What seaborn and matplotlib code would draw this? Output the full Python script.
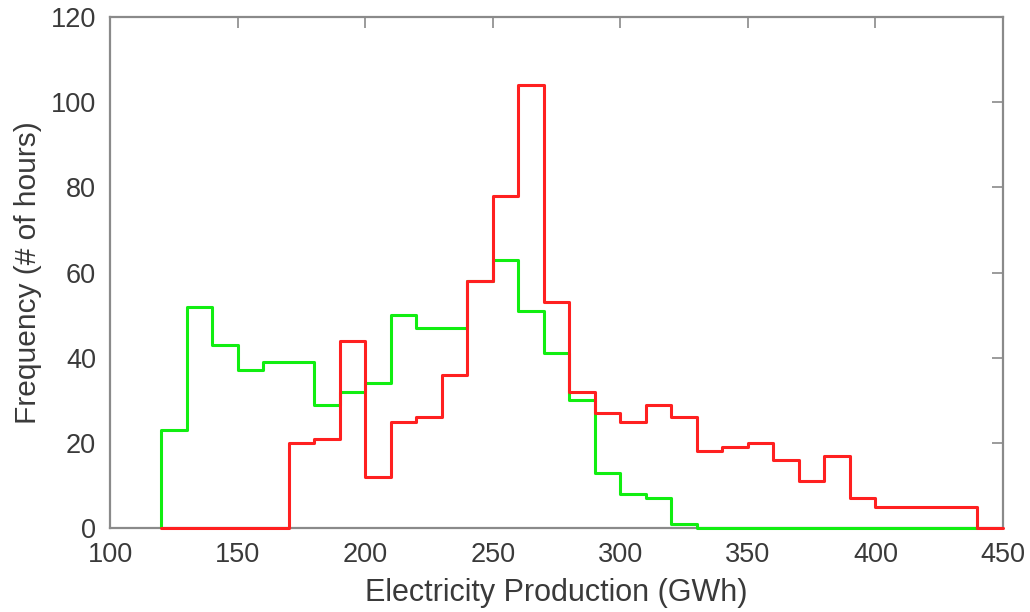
import numpy as np
import pandas as pd
import matplotlib
matplotlib.use("Agg")
import matplotlib.pyplot as plt
import seaborn as sns

# Bin edges (GWh) and counts
green_edges_start = 120
green_counts = [23, 52, 43, 37, 39, 39, 29, 32, 34, 50, 47, 47, 58, 63, 51, 41, 30,
                13, 8, 7, 1, 0, 0, 0, 0, 0, 0, 0, 0, 0, 0, 0]
red_edges_start = 120
red_counts = [0, 0, 0, 0, 0, 20, 21, 44, 12, 25, 26, 36, 58, 78, 104, 53, 32,
              27, 25, 29, 26, 18, 19, 20, 16, 11, 17, 7, 5, 5, 5, 5, 0]
bin_width = 10
x_ticks = [100, 150, 200, 250, 300, 350, 400, 450]
y_ticks = [0, 20, 40, 60, 80, 100, 120]
x_label = "Electricity Production (GWh)"
y_label = "Frequency (# of hours)"

GREEN = "#11ee11"
RED = "#ff2020"
AX_COL = "#8a8a8a"
TXT_COL = "#3a3a3a"

sns.set_theme(style="white")
plt.rcParams["font.family"] = ["Liberation Sans", "DejaVu Sans"]

fig = plt.figure(figsize=(10.30, 6.12), dpi=100)
ax = fig.add_axes([110 / 1030, 1 - 528 / 612, (1003 - 110) / 1030, (528 - 17) / 612])


def series_df(start, counts):
    counts = np.asarray(counts, dtype=float)
    edges = start + bin_width * np.arange(len(counts) + 1)
    centers = (edges[:-1] + edges[1:]) / 2
    return pd.DataFrame({"x": centers, "w": counts}), edges


for start, counts, col in [(green_edges_start, green_counts, GREEN),
                           (red_edges_start, red_counts, RED)]:
    df, edges = series_df(start, counts)
    sns.histplot(data=df, x="x", weights="w", binwidth=bin_width,
                 binrange=(float(edges[0]), float(edges[-1])), element="step",
                 fill=False, color=col, linewidth=2.2, ax=ax, zorder=3,
                 clip_on=False)
    # close the outline to the baseline at both ends (like MATLAB stairs)
    ax.vlines([edges[0], edges[-1]], 0, [counts[0], counts[-1]], colors=col,
              linewidth=2.2, zorder=3, clip_on=False)

ax.set_xlim(x_ticks[0], x_ticks[-1])
ax.set_ylim(y_ticks[0], y_ticks[-1])
ax.set_xticks(x_ticks)
ax.set_yticks(y_ticks)
ax.tick_params(direction="in", length=8, width=1.2, color=AX_COL,
               labelsize=19.5, labelcolor=TXT_COL, top=True, right=True)
ax.tick_params(axis="x", pad=10)
ax.tick_params(axis="y", pad=10)
for s in ax.spines.values():
    s.set_color(AX_COL)
    s.set_linewidth(1.6)
    s.set_visible(True)
ax.set_xlabel(x_label, fontsize=22, color=TXT_COL, labelpad=7)
ax.set_ylabel(y_label, fontsize=21.5, color=TXT_COL, labelpad=6)
ax.grid(False)

fig.savefig("out.png", dpi=100, facecolor="white")
